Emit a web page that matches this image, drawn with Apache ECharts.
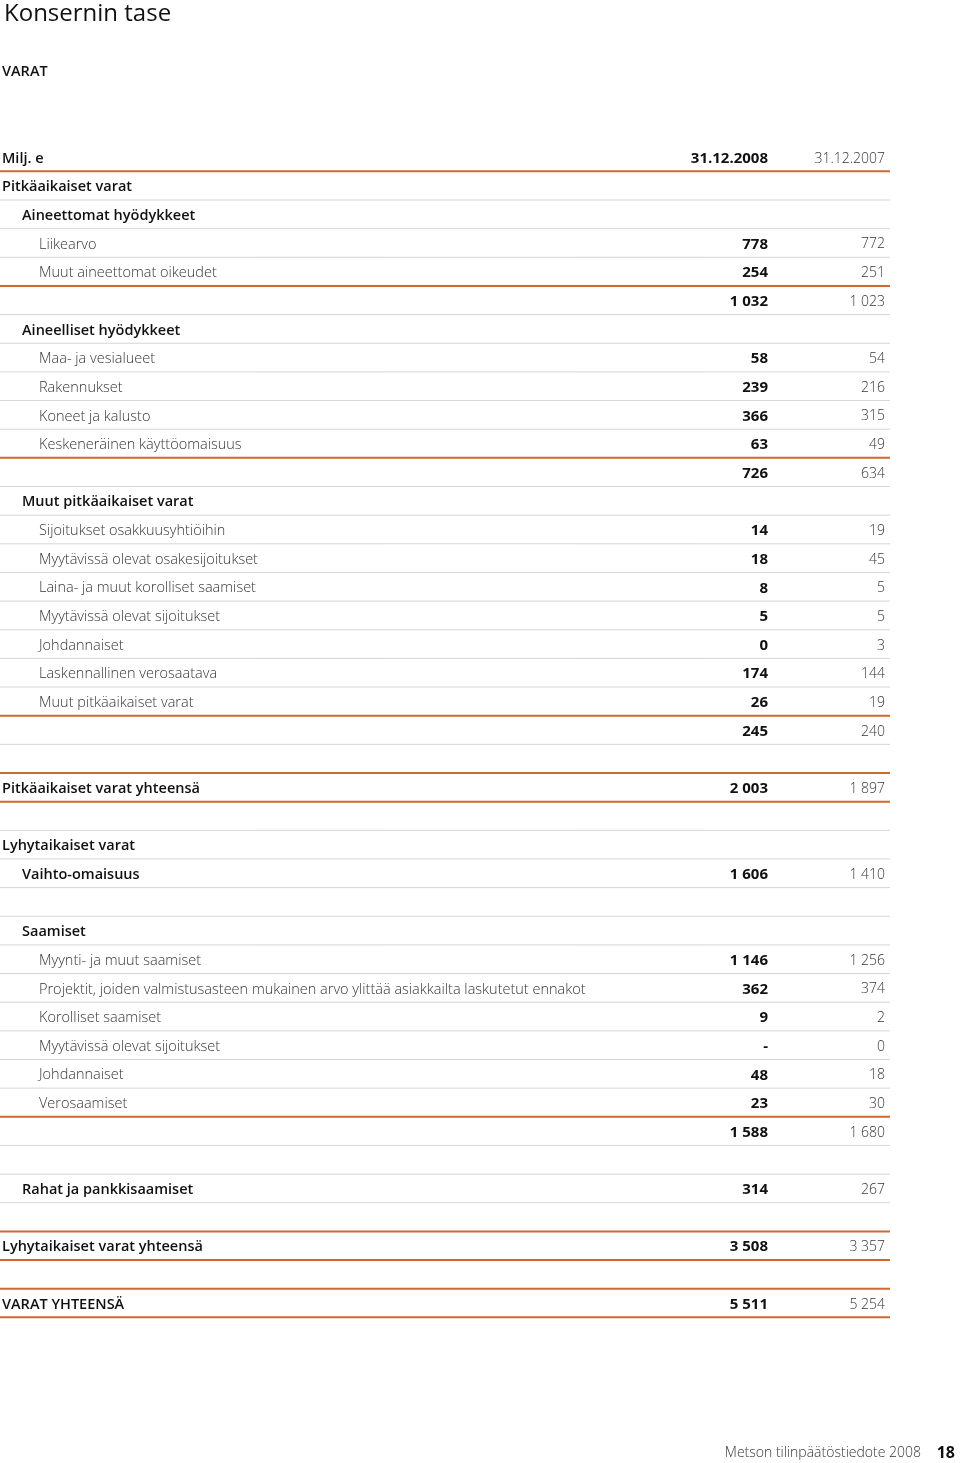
<!DOCTYPE html>
<html><head><meta charset="utf-8">
<script src="https://cdn.jsdelivr.net/npm/echarts@6/dist/echarts.min.js"></script>
<style>html,body{margin:0;padding:0;background:#fff}#c{width:960px;height:1463px}</style>
</head><body><div id="c"></div>
<script>
const pageTitle = 'Konsernin tase';
const sectionTitle = 'VARAT';
const unitLabel = 'Milj. e';
const periods = ['31.12.2008', '31.12.2007'];
const footerText = 'Metson tilinpäätöstiedote 2008';
const pageNumber = '18';

const rowLabels = [
  unitLabel, 'Pitkäaikaiset varat', 'Aineettomat hyödykkeet', 'Liikearvo', 'Muut aineettomat oikeudet', '',
  'Aineelliset hyödykkeet', 'Maa- ja vesialueet', 'Rakennukset', 'Koneet ja kalusto', 'Keskeneräinen käyttöomaisuus', '',
  'Muut pitkäaikaiset varat', 'Sijoitukset osakkuusyhtiöihin', 'Myytävissä olevat osakesijoitukset',
  'Laina- ja muut korolliset saamiset', 'Myytävissä olevat sijoitukset', 'Johdannaiset', 'Laskennallinen verosaatava',
  'Muut pitkäaikaiset varat', '', '', 'Pitkäaikaiset varat yhteensä', '', 'Lyhytaikaiset varat', 'Vaihto-omaisuus', '',
  'Saamiset', 'Myynti- ja muut saamiset',
  'Projektit, joiden valmistusasteen mukainen arvo ylittää asiakkailta laskutetut ennakot',
  'Korolliset saamiset', 'Myytävissä olevat sijoitukset', 'Johdannaiset', 'Verosaamiset', '', '',
  'Rahat ja pankkisaamiset', '', 'Lyhytaikaiset varat yhteensä', '', 'VARAT YHTEENSÄ'
];
// hierarchy level of each row: 0 = main, 1 = group, 2 = item
const rowLevels = [0,0,1,2,2,2, 1,2,2,2,2,2, 1,2,2,2,2,2,2,2,2,0,0,0,0,1,0, 1,2,2,2,2,2,2,2,0, 1,0,0,0,0];
const values2008 = [null,null,null,778,254,1032,null,58,239,366,63,726,null,14,18,8,5,0,174,26,245,null,2003,null,null,1606,null,null,1146,362,9,'-',48,23,1588,null,314,null,3508,null,5511];
const values2007 = [null,null,null,772,251,1023,null,54,216,315,49,634,null,19,45,5,5,3,144,19,240,null,1897,null,null,1410,null,null,1256,374,2,0,18,30,1680,null,267,null,3357,null,5254];
// rows followed by an accent rule
const accentRuleAfter = [0,4,10,19,21,22,33,37,38,39,40];

const FONT = '"Open Sans", "Noto Sans", sans-serif';
const ORANGE = '#cf6a2c';
const GRAY_RULE = '#d6d6d6';
const LIGHT_TEXT = '#363636';
const indentPx = [2, 22, 39];
const col2008Right = 768, col2007Right = 885, ruleRight = 890;
const TEXT_DY = 1.5;

function fmt(v) {
  if (v === null || v === undefined) return '';
  if (typeof v === 'string') return v;
  return String(v).replace(/\B(?=(\d{3})+(?!\d))/g, ' ');
}

const rowIdx = rowLabels.map((_, i) => [0, i]);

const chart = echarts.init(document.getElementById('c'), null, {renderer: 'canvas'});
chart.setOption({
  backgroundColor: '#fff',
  animation: false,
  title: {
    text: pageTitle, left: -1, top: -3,
    textStyle: {fontFamily: FONT, fontSize: 24, fontWeight: 500, color: '#111'}
  },
  grid: {left: 0, right: 0, top: 142.7, height: 1174.65, containLabel: false},
  xAxis: {type: 'value', min: 0, max: 960, show: false},
  yAxis: {type: 'value', min: -0.5, max: rowLabels.length - 0.5, inverse: true, show: false},
  graphic: [
    {type: 'text', left: 2, top: 64, style: {text: sectionTitle, font: '600 14.5px ' + FONT, fill: '#111'}},
    {type: 'text', right: 39, top: 1446, style: {text: footerText, font: '300 14px ' + FONT, fill: LIGHT_TEXT}},
    {type: 'text', right: 5, top: 1445, style: {text: pageNumber, font: 'bold 16px ' + FONT, fill: '#111'}}
  ],
  series: [
    {
      type: 'custom', name: 'rules', data: rowIdx, silent: true,
      renderItem: function (params, api) {
        const i = api.value(1);
        const accent = accentRuleAfter.indexOf(i) >= 0;
        const p0 = api.coord([0, i + 0.5]);
        const p1 = api.coord([ruleRight, i + 0.5]);
        return {type: 'line', shape: {x1: p0[0], y1: p0[1], x2: p1[0], y2: p1[1]},
          style: {stroke: accent ? ORANGE : GRAY_RULE, lineWidth: accent ? 2 : 1}};
      }
    },
    {
      type: 'custom', name: 'cells', data: rowIdx, silent: true,
      renderItem: function (params, api) {
        const i = api.value(1);
        const lvl = rowLevels[i];
        const bold = lvl < 2;
        const y = api.coord([0, i])[1] + TEXT_DY;
        const xl = api.coord([indentPx[lvl], i])[0];
        const x1 = api.coord([col2008Right, i])[0];
        const x2 = api.coord([col2007Right, i])[0];
        const t08 = i === 0 ? periods[0] : fmt(values2008[i]);
        const t07 = i === 0 ? periods[1] : fmt(values2007[i]);
        return {type: 'group', children: [
          {type: 'text', x: xl, y: y, style: {text: rowLabels[i], font: (bold ? '600 ' : '300 ') + '14.5px ' + FONT,
            fill: bold ? '#111' : LIGHT_TEXT, textAlign: 'left', textVerticalAlign: 'middle'}},
          {type: 'text', x: x1, y: y, style: {text: t08, font: 'bold 15px ' + FONT, fill: '#111', textAlign: 'right', textVerticalAlign: 'middle'}},
          {type: 'text', x: x2, y: y, style: {text: t07, font: '300 14px ' + FONT, fill: LIGHT_TEXT, textAlign: 'right', textVerticalAlign: 'middle'}}
        ]};
      }
    }
  ]
});
</script>
</body></html>
